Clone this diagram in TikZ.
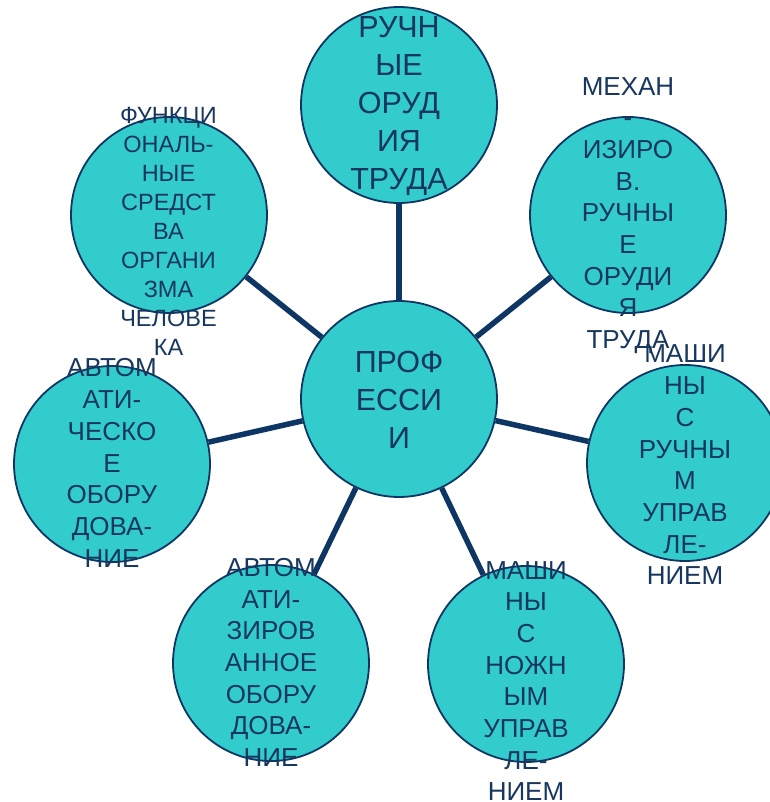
\documentclass[tikz,border=0pt]{standalone}
\usepackage{fontspec}
\setmainfont{Liberation Sans}
\definecolor{teal1}{RGB}{51,204,204}
\definecolor{navy1}{RGB}{14,54,100}
\definecolor{txt1}{RGB}{23,55,94}
\begin{document}
\begin{tikzpicture}[x=1pt,y=-1pt,
  bub/.style={circle,draw=navy1,line width=1.8pt,fill=teal1,minimum size=196pt,inner sep=0pt},
  conn/.style={draw=navy1,line width=5.5pt},
  lbl/.style={text=txt1,align=center,inner sep=0pt},
  big/.style={lbl,font=\fontsize{30.5}{38}\selectfont},
  mid/.style={lbl,font=\fontsize{26}{31.7}\selectfont},
  sml/.style={lbl,font=\fontsize{23.5}{29}\selectfont}]
\useasboundingbox (0,0) rectangle (769,802);
% circles
\node[bub] (c)  at (399,399) {};
\node[bub] (t)  at (399,105) {};
\node[bub] (tr) at (628,215) {};
\node[bub] (r)  at (685,463) {};
\node[bub] (br) at (526,664) {};
\node[bub] (bl) at (271,663) {};
\node[bub] (l)  at (112,464) {};
\node[bub] (tl) at (169,215) {};
% connectors
\draw[conn] (c) -- (t);
\draw[conn] (c) -- (tr);
\draw[conn] (c) -- (r);
\draw[conn] (c) -- (br);
\draw[conn] (c) -- (bl);
\draw[conn] (c) -- (l);
\draw[conn] (c) -- (tl);
% texts
\node[big] (ct)  at (399,399.5) {ПРОФ\\ЕССИ\\И};
\node[big] (tt)  at (399,106.5) {РУЧН\\ЫЕ\\ОРУД\\ИЯ\\ТРУДА};
\node[mid] (trt) at (628,215.5) {МЕХАН\\-\\ИЗИРО\\В.\\РУЧНЫ\\Е\\ОРУДИ\\Я\\ТРУДА};
\node[mid] (rt)  at (685,465) {МАШИ\\НЫ\\С\\РУЧНЫ\\М\\УПРАВ\\ЛЕ-\\НИЕМ};
\node[mid] (brt) at (526,681) {МАШИ\\НЫ\\С\\НОЖН\\ЫМ\\УПРАВ\\ЛЕ-\\НИЕМ};
\node[mid] (blt) at (271,662.5) {АВТОМ\\АТИ-\\ЗИРОВ\\АННОЕ\\ОБОРУ\\ДОВА-\\НИЕ};
\node[mid] (lt)  at (112,463) {АВТОМ\\АТИ-\\ЧЕСКО\\Е\\ОБОРУ\\ДОВА-\\НИЕ};
\node[sml] (tlt) at (168.5,231) {ФУНКЦИ\\ОНАЛЬ-\\НЫЕ\\СРЕДСТ\\ВА\\ОРГАНИ\\ЗМА\\ЧЕЛОВЕ\\КА};
\end{tikzpicture}
\end{document}
